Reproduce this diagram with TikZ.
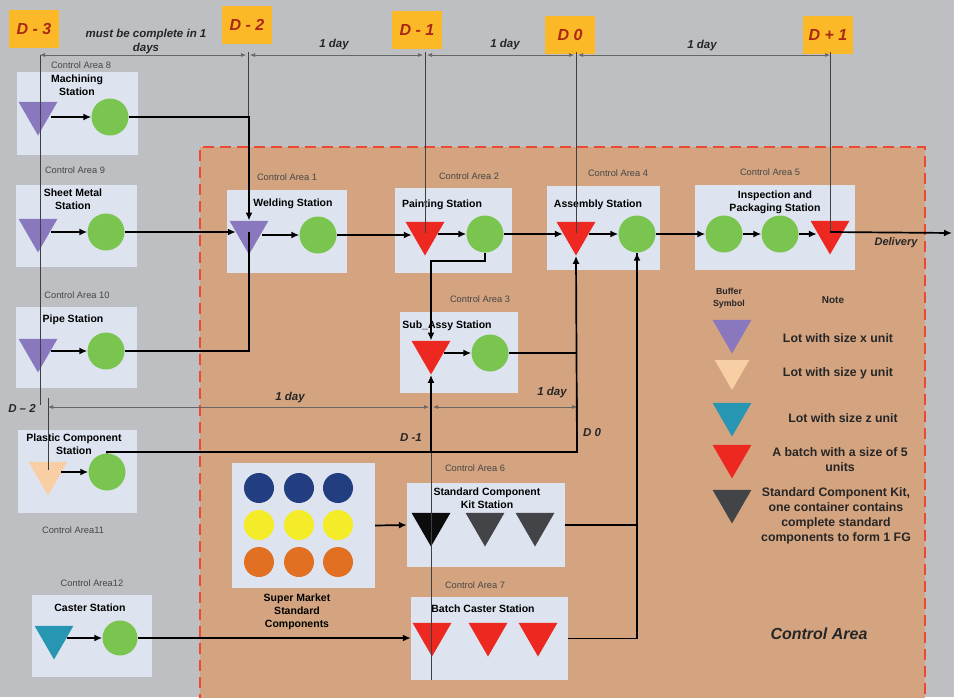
\documentclass[tikz,border=0pt]{standalone}
\usepackage{fontspec}
\setmainfont{Liberation Sans}
\usetikzlibrary{shapes.geometric,arrows.meta,calc}

\definecolor{bggray}{RGB}{189,191,194}
\definecolor{ctan}{RGB}{212,164,128}
\definecolor{dashred}{RGB}{236,72,50}
\definecolor{boxblue}{RGB}{221,228,240}
\definecolor{bpurple}{RGB}{138,120,190}
\definecolor{wgreen}{RGB}{122,196,80}
\definecolor{bred}{RGB}{236,40,32}
\definecolor{bpeach}{RGB}{248,206,164}
\definecolor{bteal}{RGB}{38,150,178}
\definecolor{bdark}{RGB}{66,68,72}
\definecolor{bblack}{RGB}{12,12,12}
\definecolor{snavy}{RGB}{34,62,128}
\definecolor{syellow}{RGB}{244,236,40}
\definecolor{sorange}{RGB}{226,112,34}
\definecolor{dyellow}{RGB}{251,185,40}
\definecolor{dtext}{RGB}{170,40,20}
\definecolor{lblgray}{RGB}{70,70,70}

\newcommand\sttfont{\fontsize{10.5}{13}\selectfont\bfseries}
\newcommand\calfont{\fontsize{9.3}{11}\selectfont}
\newcommand\lgfont{\fontsize{12.3}{15}\selectfont\bfseries}
\newcommand\dayfont{\fontsize{11.5}{14}\selectfont\bfseries\itshape}
\newcommand\dlfont{\fontsize{16}{18}\selectfont\bfseries\itshape}

\tikzset{
  stnbox/.style={fill=boxblue, draw=none, inner sep=0pt},
  buf/.style={regular polygon, regular polygon sides=3, regular polygon rotate=180,
              minimum size=45pt, inner sep=0pt, draw=none, fill=#1},
  wkc/.style={circle, fill=wgreen, minimum size=37pt, inner sep=0pt},
  smc/.style={circle, fill=#1, minimum size=30pt, inner sep=0pt},
  calbl/.style={font=\calfont, text=lblgray, inner sep=0pt},
  sttl/.style={font=\sttfont, align=center, inner sep=0pt},
  lgtxt/.style={font=\lgfont, align=center, inner sep=0pt, text=black!85},
  daytxt/.style={font=\dayfont, align=center, inner sep=0pt, text=black!85},
  dlabel/.style={fill=dyellow, font=\dlfont, text=dtext, inner sep=0pt,
                 minimum width=50pt, minimum height=38pt},
  flowln/.style={line width=1.7pt, draw=black, -{Latex[length=8pt,width=7pt]}},
  plainln/.style={line width=1.7pt, draw=black},
  extln/.style={line width=0.7pt, draw=black!75},
  dimln/.style={line width=0.7pt, draw=black!60, {Latex[length=5pt,width=4pt]}-{Latex[length=5pt,width=4pt]}},
}

\begin{document}
\begin{tikzpicture}[x=1pt,y=-1pt]
\useasboundingbox (0,0) rectangle (954,697);

% backdrop and the dashed control area
\fill[bggray] (0,0) rectangle (954,697);
\fill[ctan] (200,147) rectangle (925,705);
\draw[dashred, line width=1.8pt, dash pattern=on 11pt off 6pt] (200,705) -- (200,147) -- (925,147) -- (925,705);
\node[font=\fontsize{16}{18}\selectfont\bfseries\itshape, text=black!85] (ca) at (819,634) {Control Area};

% day markers
\node[dlabel] (dm3) at (34,29) {D - 3};
\node[dlabel] (dm2) at (247,25) {D - 2};
\node[dlabel] (dm1) at (417,30) {D - 1};
\node[dlabel] (dz) at (570,35) {D 0};
\node[dlabel] (dp1) at (828,35) {D + 1};

% time reference points
\coordinate (d3top) at (40,55);
\coordinate (d3bot) at (40,405);
\coordinate (d2top) at (248,52);
\coordinate (d2bot) at (248,117);
\coordinate (d1top) at (425,52);
\coordinate (d0top) at (576,52);
\coordinate (dp1top) at (830,52);
\coordinate (ld2top) at (48,398);
\coordinate (ld2bot) at (48,470);
\coordinate (ld1top) at (431,395);
\coordinate (ld1bot) at (431,680);
\coordinate (ld0top) at (577,398);
\coordinate (jl) at (431,452);
\coordinate (jr) at (577,452);
\coordinate (dlv) at (952,233);

% stations outside the control area
\node[stnbox, minimum width=121pt, minimum height=83pt] (box8) at (77.5,113.5) {};
\node[stnbox, minimum width=121pt, minimum height=82pt] (box9) at (76.5,226) {};
\node[stnbox, minimum width=121pt, minimum height=81pt] (box10) at (76.5,347.5) {};
\node[stnbox, minimum width=119pt, minimum height=83pt] (boxP) at (77.5,471.5) {};
\node[stnbox, minimum width=120pt, minimum height=82pt] (boxC) at (92,636) {};

% stations inside the control area
\node[stnbox, minimum width=120pt, minimum height=83pt] (box1) at (287,231.5) {};
\node[stnbox, minimum width=117pt, minimum height=85pt] (box2) at (453.5,230.5) {};
\node[stnbox, minimum width=113pt, minimum height=84pt] (box4) at (603.5,228) {};
\node[stnbox, minimum width=160pt, minimum height=85pt] (box5) at (775,227.5) {};
\node[stnbox, minimum width=118pt, minimum height=81pt] (boxS) at (459,352.5) {};
\node[stnbox, minimum width=158pt, minimum height=84pt] (box6) at (486,525) {};
\node[stnbox, minimum width=157pt, minimum height=83pt] (box7) at (489.5,638.5) {};
\node[stnbox, minimum width=143pt, minimum height=125pt] (boxM) at (303.5,525.5) {};

% control area captions
\node[calbl] (lbl8) at (81,65) {Control Area 8};
\node[calbl] (lbl9) at (75,170) {Control Area 9};
\node[calbl] (lbl10) at (77,295) {Control Area 10};
\node[calbl] (lblP) at (73,530) {Control Area11};
\node[calbl] (lblC) at (92,583) {Control Area12};
\node[calbl] (lbl1) at (287,177) {Control Area 1};
\node[calbl] (lbl2) at (469,176) {Control Area 2};
\node[calbl] (lbl4) at (618,173) {Control Area 4};
\node[calbl] (lbl5) at (770,172) {Control Area 5};
\node[calbl] (lblS) at (480,299) {Control Area 3};
\node[calbl] (lbl6) at (475,468) {Control Area 6};
\node[calbl] (lbl7) at (475,585) {Control Area 7};

% station titles
\node[sttl] (t8) at (77,85) {Machining\\Station};
\node[sttl] (t9) at (73,199) {Sheet Metal\\Station};
\node[sttl] (t10) at (73,320) {Pipe Station};
\node[sttl] (tP) at (74,444) {Plastic Component\\Station};
\node[sttl] (tC) at (90,608) {Caster Station};
\node[sttl] (t1) at (293,204) {Welding Station};
\node[sttl] (t2) at (442,205) {Painting Station};
\node[sttl] (t4) at (598,205) {Assembly Station};
\node[sttl] (t5) at (775,202) {Inspection and\\Packaging Station};
\node[sttl] (tS) at (447,326) {Sub\_Assy Station};
\node[sttl] (t6) at (487,498) {Standard Component\\Kit Station};
\node[sttl] (t7) at (483,609) {Batch Caster Station};
\node[sttl] (tM) at (297,612) {Super Market\\Standard\\Components};

% buffers and work centres
\node[buf=bpurple] (tri8) at (38,113) {};
\node[wkc] (c8) at (110,117) {};
\node[buf=bpurple] (tri9) at (38,230) {};
\node[wkc] (c9) at (106,232) {};
\node[buf=bpurple] (tri10) at (38,350) {};
\node[wkc] (c10) at (106,351) {};
\node[buf=bpeach] (triP) at (48,473) {};
\node[wkc] (cP) at (107,472) {};
\node[buf=bteal] (triC) at (54,637) {};
\node[wkc, minimum size=35pt] (cC) at (120,638) {};

\node[buf=bpurple] (tri1) at (249,232) {};
\node[wkc] (c1) at (318,235) {};
\node[buf=bred] (tri2) at (425,233) {};
\node[wkc] (c2) at (485,234) {};
\node[buf=bred] (tri4) at (576,233) {};
\node[wkc] (c4) at (637,234) {};
\node[wkc] (ci1) at (724,234) {};
\node[wkc] (ci2) at (780,234) {};
\node[buf=bred] (tri5) at (830,232) {};
\node[buf=bred] (triS) at (431,352) {};
\node[wkc] (cS) at (490,353) {};

\node[buf=bblack] (k1) at (431,524) {};
\node[buf=bdark] (k2) at (485,524) {};
\node[buf=bdark] (k3) at (535,524) {};
\node[buf=bred] (b1) at (432,634) {};
\node[buf=bred] (b2) at (488,634) {};
\node[buf=bred] (b3) at (538,634) {};

% supermarket stock
\foreach \cx [count=\i] in {259,299,338}{
  \node[smc=snavy] (sn\i) at (\cx,488) {};
  \node[smc=syellow] (sy\i) at (\cx,525) {};
  \node[smc=sorange] (so\i) at (\cx,562) {};
}

% legend
\node[lgtxt, font=\fontsize{8.8}{12}\selectfont\bfseries] (lgh1) at (729,298) {Buffer\\Symbol};
\node[lgtxt, font=\fontsize{10}{12}\selectfont\bfseries] (lgh2) at (833,300) {Note};
\node[buf=bpurple] (lg1) at (732,331) {};
\node[buf=bpeach, minimum size=40pt] (lg2) at (732,370) {};
\node[buf=bteal] (lg3) at (732,414) {};
\node[buf=bred] (lg4) at (732,456) {};
\node[buf=bdark] (lg5) at (732,501) {};
\node[lgtxt] (lt1) at (838,338) {Lot with size x unit};
\node[lgtxt] (lt2) at (838,373) {Lot with size y unit};
\node[lgtxt] (lt3) at (843,418) {Lot with size z unit};
\node[lgtxt] (lt4) at (840,460) {A batch with a size of 5\\units};
\node[lgtxt] (lt5) at (836,516) {Standard Component Kit,\\one container contains\\complete standard\\components to form 1 FG};

% time extension lines
\draw[extln] (d3top) -- (d3bot);
\draw[extln] (ld2top) -- (ld2bot);
\draw[extln] (d2top) -- (d2bot);
\draw[extln] (d1top) -- (tri2.center);
\draw[extln] (d0top) -- (tri4.center);
\draw[extln] (dp1top) -- (tri5.center);
\draw[extln] (ld1top) -- (ld1bot);
\draw[extln] (ld0top) -- (jr);

% durations along the top
\draw[dimln] (d3top) -- ([xshift=-2pt]d2top |- d3top);
\draw[dimln] ([xshift=2pt]d2top |- d3top) -- ([xshift=-2pt]d1top |- d3top);
\draw[dimln] ([xshift=2pt]d1top |- d3top) -- ([xshift=-2pt]d0top |- d3top);
\draw[dimln] ([xshift=2pt]d0top |- d3top) -- (dp1top |- d3top);
\node[daytxt] (dd1) at (146,42) {must be complete in 1\\days};
\node[daytxt] (dd2) at (334,45) {1 day};
\node[daytxt] (dd3) at (505,45) {1 day};
\node[daytxt] (dd4) at (702,46) {1 day};

% durations along the lower marker
\coordinate (lowy) at (0,407);
\draw[dimln] (ld2top |- lowy) -- ([xshift=-2pt]ld1top |- lowy);
\draw[dimln] ([xshift=2pt]ld1top |- lowy) -- (ld0top |- lowy);
\node[daytxt] (ld1) at (290,398) {1 day};
\node[daytxt] (ld2) at (552,393) {1 day};
\node[daytxt] (ldm2) at (22,408) {D – 2};
\node[daytxt] (ldm1) at (411,438) {D -1};
\node[daytxt] (ld0) at (592,433) {D 0};

% material flow, left feeders
\draw[flowln] (tri8.east |- c8) -- (c8);
\draw[flowln] (tri9.east |- c9) -- (c9);
\draw[flowln] (tri10.east |- c10) -- (c10);
\draw[flowln] (triP.east |- cP) -- (cP);
\draw[flowln] (triC.east |- cC) -- (cC);
\draw[flowln] (c8) -| (tri1.north);
\draw[flowln] (c9) -- (tri1.west |- c9);
\draw[plainln] (c10) -| (tri1.center);

% main line
\draw[flowln] (tri1.east |- c1) -- (c1);
\draw[flowln] (c1) -- (tri2.west |- c1);
\draw[flowln] (tri2.east |- c2) -- (c2);
\draw[flowln] (c2) -- (tri4.west |- c2);
\draw[flowln] (tri4.east |- c4) -- (c4);
\draw[flowln] (c4) -- (ci1);
\draw[flowln] (ci1) -- (ci2);
\draw[flowln] (ci2) -- (tri5.west |- ci2);
\draw[flowln] (tri5.center) -- (dlv);
\node[daytxt, font=\fontsize{11}{13}\selectfont\bfseries\itshape] (dl) at (896,243) {Delivery};

% sub-assembly loop
\draw[flowln] (c2.south) -- ++(0,8) -| (triS.north);
\draw[flowln] (triS.east |- cS) -- (cS);
\draw[plainln] (cS) -- (cS -| jr);
\draw[flowln] (cP.north) |- (jr) -- (tri4.south);
\draw[flowln] (jl) -- (triS.south);

% kits and batches to assembly
\draw[flowln] (boxM.east) -- (box6.west);
\draw[flowln] (box6.east) -| (c4.south);
\draw[plainln] (box7.east) -| (c4.south);
\draw[flowln] (cC) -- (box7.west |- cC);

\end{tikzpicture}
\end{document}
